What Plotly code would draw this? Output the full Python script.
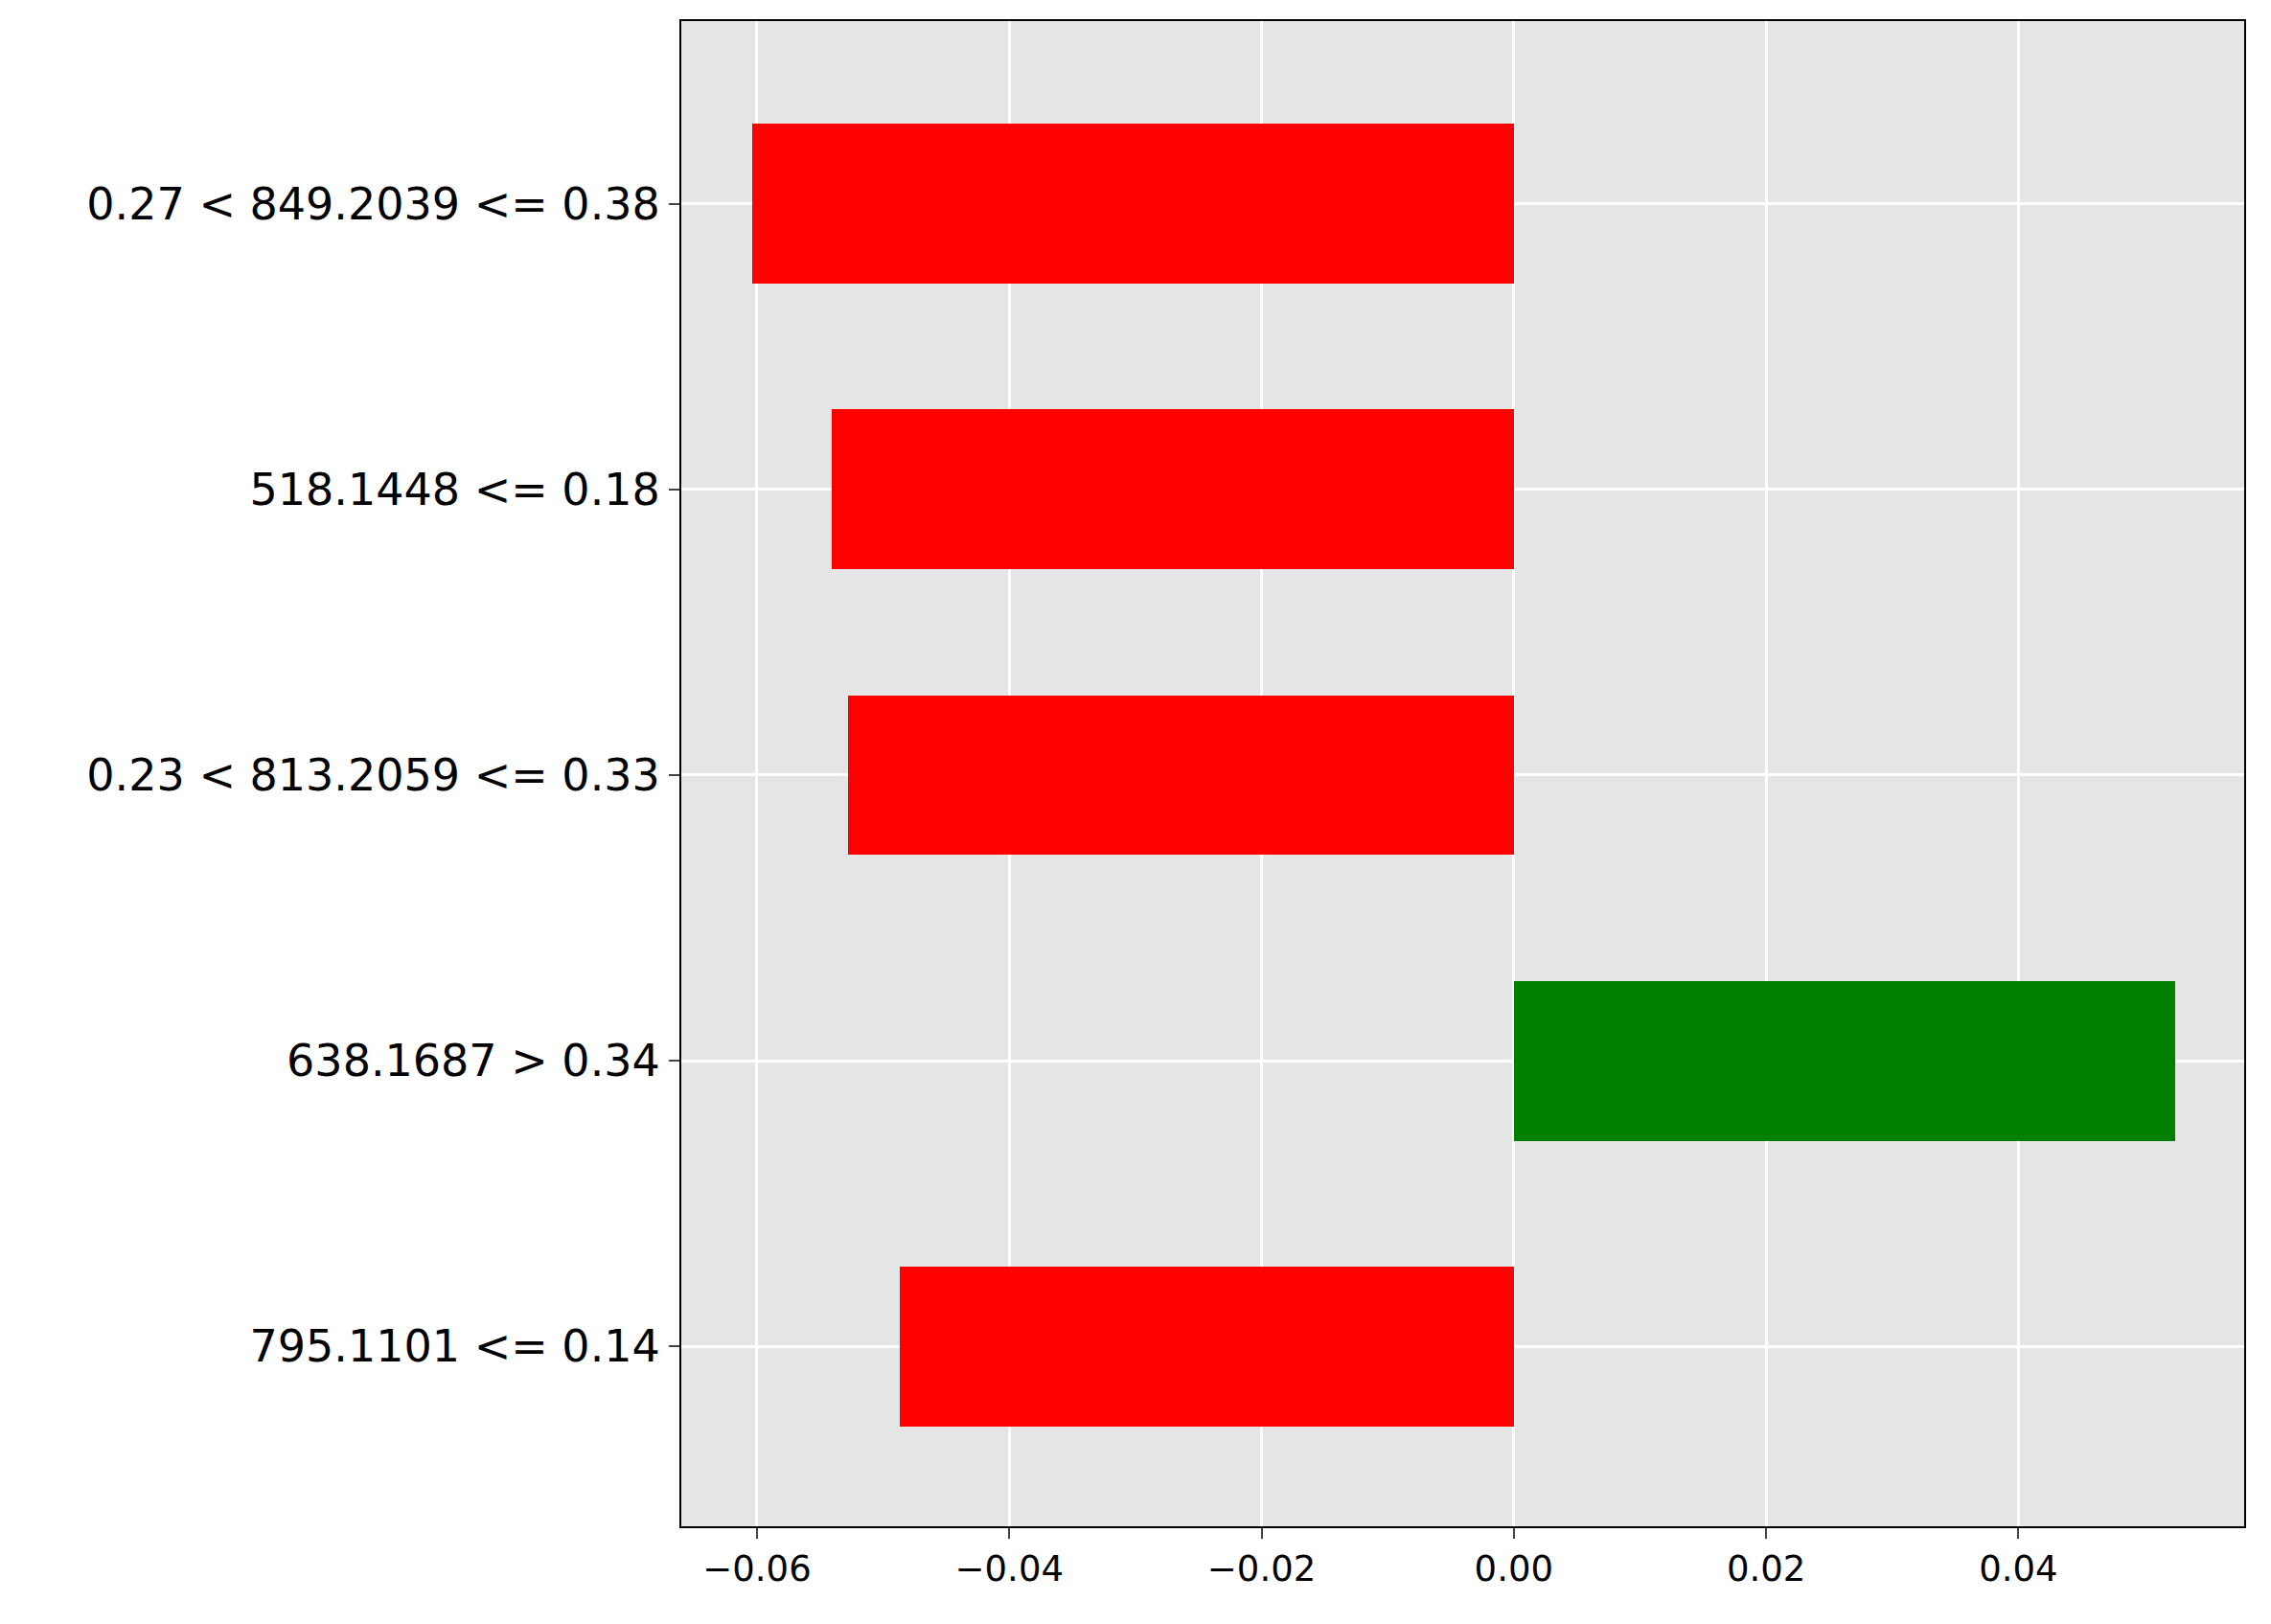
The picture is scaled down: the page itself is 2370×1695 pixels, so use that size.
import plotly.graph_objects as go

# bottom to top, as drawn
labels = ["795.1101 <= 0.14", "638.1687 > 0.34", "0.23 < 813.2059 <= 0.33",
          "518.1448 <= 0.18", "0.27 < 849.2039 <= 0.38"]
weights = [-0.0487, 0.0524, -0.0528, -0.0541, -0.0604]
colors = ["green" if w > 0 else "red" for w in weights]

fig = go.Figure(go.Bar(
    x=weights, y=list(range(len(labels))), orientation="h",
    marker=dict(color=colors, line_width=0), width=0.56,
))

fig.update_xaxes(
    range=[-0.066, 0.0579], tickvals=[-0.06, -0.04, -0.02, 0, 0.02, 0.04],
    ticktext=["\u22120.06", "\u22120.04", "\u22120.02", "0.00", "0.02", "0.04"],
    showgrid=True, gridcolor="white", gridwidth=3, zeroline=False,
    ticks="outside", ticklen=11, tickwidth=2, tickfont=dict(size=37, color="black"),
    showline=True, linecolor="black", linewidth=2, mirror=True,
)
fig.update_yaxes(
    range=[-0.63, 4.64], tickvals=list(range(len(labels))), ticktext=labels,
    showgrid=True, gridcolor="white", gridwidth=3, zeroline=False,
    ticks="outside", ticklen=11, tickwidth=2, tickfont=dict(size=46, color="black"),
    showline=True, linecolor="black", linewidth=2, mirror=True,
)
fig.update_layout(
    width=2370, height=1695,
    margin=dict(l=703, r=36, t=12, b=110),
    plot_bgcolor="#e5e5e5", paper_bgcolor="white",
    font=dict(family="DejaVu Sans"), showlegend=False, bargap=0,
)
fig.write_html("out.html")
